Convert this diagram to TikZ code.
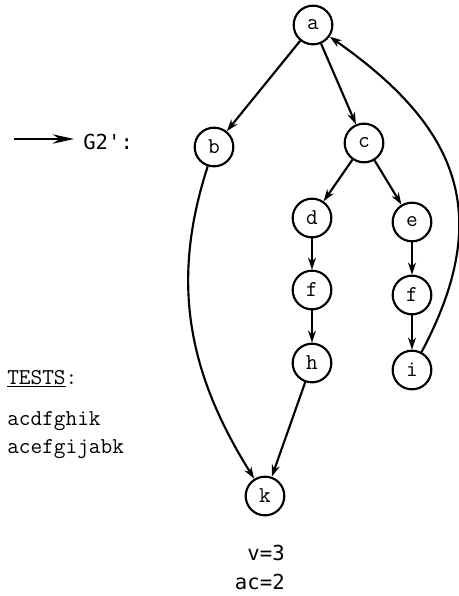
\documentclass[tikz,border=0pt]{standalone}
\usepackage{fontspec}
\setmainfont{Liberation Sans}
\newfontfamily\gothic{DejaVu Sans Mono}
\usetikzlibrary{arrows.meta}
\tikzset{
  vertex/.style={draw, circle, line width=1.6pt, minimum size=29pt, inner sep=0pt,
    font=\ttfamily\fontsize{17}{19}\selectfont},
  edge/.style={-{Stealth[length=9pt,width=6pt]}, line width=1.6pt},
  prova/.style={font=\ttfamily\fontsize{17}{19}\selectfont, anchor=west, inner sep=0pt},
  rotul/.style={font=\gothic\fontsize{15.5}{17}\selectfont, inner sep=0pt},
}

\begin{document}
\begin{tikzpicture}[x=0.75pt,y=-0.75pt]
  \useasboundingbox (0,0) rectangle (459,596);

  % Vertices of the graph.
  \node[vertex] (a)  at (313,25)  {a};
  \node[vertex] (b)  at (214,147) {b};
  \node[vertex] (c)  at (364,143) {c};
  \node[vertex] (d)  at (312,218) {d};
  \node[vertex] (e)  at (412,222) {e};
  \node[vertex] (f1) at (312,290) {f};
  \node[vertex] (f2) at (412,295) {f};
  \node[vertex] (h)  at (312,363) {h};
  \node[vertex] (i)  at (412,370) {i};
  \node[vertex] (k)  at (265,496) {k};

  % Straight edges.
  \draw[edge] (a) -- (b);
  \draw[edge] (a) -- (c);
  \draw[edge] (c) -- (d);
  \draw[edge] (c) -- (e);
  \draw[edge] (d) -- (f1);
  \draw[edge] (f1) -- (h);
  \draw[edge] (h) -- (k);
  \draw[edge] (e) -- (f2);
  \draw[edge] (f2) -- (i);

  % Curved edges.
  \draw[edge] (b) to[out=252, in=122] (k);
  \draw[edge] (i) to[out=62, in=-35, looseness=1.22] (a);

  % Label of the graph.
  \coordinate (flA) at (14,139);
  \coordinate (flB) at (74,139);
  \draw[-{Stealth[length=16pt,width=7pt]}, line width=2pt] (flA) -- (flB);
  \node[rotul, anchor=west] (nom) at (83,142) {G2':};

  % Test paths.
  \node[prova] (tests) at (7,379) {\underline{TESTS}:};
  \node[prova] (t1) at (7,421) {acdfghik};
  \node[prova] (t2) at (7,449) {acefgijabk};

  % Counts.
  \node[rotul, anchor=east] (v)  at (285,553) {v=3};
  \node[rotul, anchor=east] (ac) at (285,582) {ac=2};
\end{tikzpicture}
\end{document}
